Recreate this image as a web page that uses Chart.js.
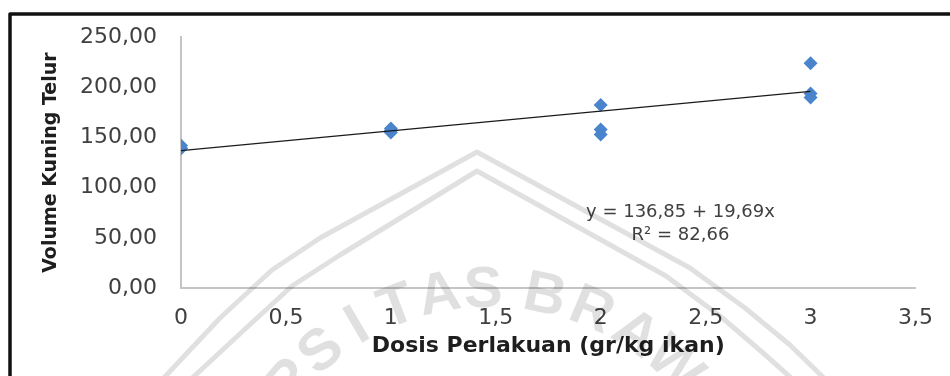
<!DOCTYPE html>
<html>
<head>
<meta charset="utf-8">
<script src="https://cdn.jsdelivr.net/npm/chart.js@4.4.1/dist/chart.umd.min.js"></script>
<style>
  html, body { margin: 0; padding: 0; background: #ffffff; }
  canvas { display: block; }
</style>
</head>
<body>
<canvas id="chart" width="950" height="376"></canvas>
<script>
// Dose (gr/kg ikan) of each observation and the measured yolk volume
const doses = [0, 0, 0, 1, 1, 1, 2, 2, 2, 3, 3, 3];
const yolkVolume = [142, 139, 139.5, 159, 157, 155, 182.5, 158, 153, 224, 194, 190];

// Linear regression reported for the data
const intercept = 136.85;
const slope = 19.69;
const rSquared = 82.66;

// Axis tick labels (decimal comma)
const xTickLabels = ['0', '0,5', '1', '1,5', '2', '2,5', '3', '3,5'];
const yTickLabels = ['0,00', '50,00', '100,00', '150,00', '200,00', '250,00'];

const comma = v => v.toFixed(2).replace('.', ',');

const points = doses.map((d, i) => ({ x: d, y: yolkVolume[i] }));
const fitLine = [0, 3].map(x => ({ x: x, y: intercept + slope * x }));

// Page background, outer frame and the faint university watermark
const framePlugin = {
  id: 'frame',
  beforeDraw(chart) {
    const ctx = chart.ctx;
    ctx.save();
    ctx.fillStyle = '#ffffff';
    ctx.fillRect(0, 0, chart.width, chart.height);
    ctx.restore();
  },
  afterDraw(chart) {
    const ctx = chart.ctx;
    ctx.save();
    // watermark: double roof outline
    ctx.strokeStyle = 'rgba(0,0,0,0.12)';
    ctx.fillStyle = 'rgba(0,0,0,0.12)';
    ctx.lineWidth = 5;
    ctx.lineJoin = 'round';
    const roofs = [
      [[160,382],[220,318],[272,270],[320,238],[477,152],[690,268],[745,308],[790,345],[828,382]],
      [[188,382],[244,330],[292,286],[340,255],[477,171],[666,276],[720,316],[762,352],[798,384]]
    ];
    roofs.forEach(pts => {
      ctx.beginPath();
      ctx.moveTo(pts[0][0], pts[0][1]);
      for (let i = 1; i < pts.length; i++) ctx.lineTo(pts[i][0], pts[i][1]);
      ctx.stroke();
    });
    // watermark: name along an arc
    const cx = 490, cy = 553, r = 262;
    ctx.font = 'bold 58px "Liberation Sans", Arial, sans-serif';
    ctx.textAlign = 'center';
    ctx.textBaseline = 'middle';
    const first = 'UNIVERSITAS', second = 'BRAWIJAYA';
    const place = (ch, deg) => {
      const a = deg * Math.PI / 180;
      ctx.save();
      ctx.translate(cx + r * Math.sin(a), cy - r * Math.cos(a));
      ctx.rotate(a);
      ctx.fillText(ch, 0, 0);
      ctx.restore();
    };
    [...first].forEach((ch, i) => place(ch, -1.5 + (i - 10) * 9.6));
    [...second].forEach((ch, j) => place(ch, 12 + j * 10.8));

    // outer frame
    ctx.strokeStyle = '#111111';
    ctx.lineWidth = 3.5;
    ctx.strokeRect(10, 14, chart.width + 20, chart.height + 20);
    ctx.restore();
  }
};

// Regression equation written beside the trend line
const equationPlugin = {
  id: 'equation',
  afterDatasetsDraw(chart) {
    const ctx = chart.ctx;
    const xs = chart.scales.x, ys = chart.scales.y;
    const px = xs.getPixelForValue(2.38);
    const py = ys.getPixelForValue(75);
    ctx.save();
    ctx.fillStyle = '#404040';
    ctx.font = '18px "DejaVu Sans", sans-serif';
    ctx.textAlign = 'center';
    ctx.textBaseline = 'middle';
    ctx.fillText('y = ' + comma(intercept) + ' + ' + comma(slope) + 'x', px, py);
    ctx.fillText('R\u00B2 = ' + comma(rSquared), px, py + 23);
    ctx.restore();
  }
};

new Chart(document.getElementById('chart'), {
  type: 'scatter',
  data: {
    datasets: [
      {
        label: 'Volume Kuning Telur',
        data: points,
        pointStyle: 'rectRot',
        pointRadius: 7,
        pointHoverRadius: 7,
        backgroundColor: '#4a84cc',
        borderColor: '#4a84cc',
        borderWidth: 0,
        order: 1
      },
      {
        type: 'line',
        label: 'Linear',
        data: fitLine,
        borderColor: '#1a1a1a',
        borderWidth: 1.3,
        pointRadius: 0,
        fill: false,
        order: 0
      }
    ]
  },
  options: {
    responsive: false,
    animation: false,
    layout: { padding: { left: 0, top: 35, right: 29, bottom: 0 } },
    plugins: {
      legend: { display: false },
      tooltip: { enabled: false }
    },
    scales: {
      x: {
        type: 'linear',
        min: 0,
        max: 3.5,
        grid: { display: false, drawTicks: false },
        border: { display: true, color: '#c4c4c4', width: 2 },
        ticks: {
          stepSize: 0.5,
          padding: 17,
          color: '#404040',
          font: { family: '"DejaVu Sans", sans-serif', size: 22 },
          callback: (v, i) => xTickLabels[i]
        },
        title: {
          display: true,
          text: 'Dosis Perlakuan (gr/kg ikan)',
          color: '#1e1e1e',
          font: { family: '"DejaVu Sans", sans-serif', size: 22, weight: 'bold' },
          padding: { top: 0, bottom: 17 }
        },
        afterFit(scale) { scale.height = 88; }
      },
      y: {
        type: 'linear',
        min: 0,
        max: 250,
        grid: { display: false, drawTicks: false },
        border: { display: true, color: '#c4c4c4', width: 2 },
        ticks: {
          stepSize: 50,
          padding: 24,
          color: '#404040',
          font: { family: '"DejaVu Sans", sans-serif', size: 22 },
          callback: (v, i) => yTickLabels[i]
        },
        title: {
          display: true,
          text: 'Volume Kuning Telur',
          color: '#1e1e1e',
          font: { family: '"DejaVu Sans", sans-serif', size: 19, weight: 'bold' },
          padding: { top: 40, bottom: 0 }
        },
        afterFit(scale) { scale.width = 181; }
      }
    }
  },
  plugins: [framePlugin, equationPlugin]
});
</script>
</body>
</html>
